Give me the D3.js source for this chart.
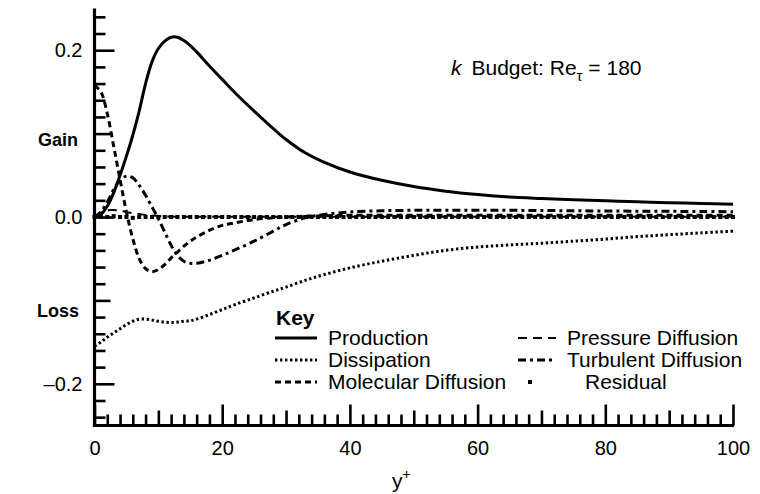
<!DOCTYPE html>
<html>
<head>
<meta charset="utf-8">
<script src="https://cdn.jsdelivr.net/npm/d3@7/dist/d3.min.js"></script>
<style>
  html, body { margin: 0; padding: 0; background: #fff; }
  svg { display: block; font-family: "Liberation Sans", Arial, Helvetica, sans-serif; }
</style>
</head>
<body>
<svg id="chart" width="760" height="494"></svg>
<script>
// Turbulent kinetic energy budget terms vs. wall distance y+
const yPlus = [0, 1, 2, 3, 4, 5, 6, 7, 8, 9, 10, 11, 12, 13, 14, 15, 16, 18, 20, 22, 25, 28, 30, 33, 36, 40, 45, 50, 55, 60, 65, 70, 75, 80, 85, 90, 95, 100];

const production = [0, 0.003, 0.013, 0.029, 0.050, 0.073, 0.098, 0.127, 0.160, 0.186, 0.202, 0.211, 0.2155, 0.2155, 0.2115, 0.2055, 0.198, 0.181, 0.165, 0.149, 0.127, 0.106, 0.093, 0.077, 0.0655, 0.054, 0.044, 0.0365, 0.031, 0.027, 0.024, 0.0222, 0.0207, 0.0194, 0.0182, 0.0172, 0.0162, 0.0152];

const dissipation = [-0.155, -0.150, -0.144, -0.139, -0.134, -0.129, -0.125, -0.1225, -0.1225, -0.1235, -0.125, -0.126, -0.1265, -0.126, -0.125, -0.1245, -0.1225, -0.117, -0.111, -0.105, -0.097, -0.089, -0.084, -0.076, -0.069, -0.061, -0.053, -0.046, -0.040, -0.036, -0.0335, -0.0315, -0.029, -0.0265, -0.0235, -0.0212, -0.019, -0.017];

const molecularDiffusion = [0.158, 0.150, 0.124, 0.085, 0.045, 0.006, -0.026, -0.050, -0.062, -0.0655, -0.063, -0.057, -0.049, -0.042, -0.035, -0.029, -0.024, -0.016, -0.010, -0.007, -0.003, -0.001, 0.000, 0.001, 0.0015, 0.002, 0.002, 0.002, 0.002, 0.002, 0.002, 0.002, 0.002, 0.002, 0.002, 0.002, 0.002, 0.002];

const turbulentDiffusion = [0.000, 0.006, 0.018, 0.033, 0.044, 0.049, 0.047, 0.038, 0.026, 0.012, -0.002, -0.018, -0.034, -0.046, -0.053, -0.0555, -0.0555, -0.052, -0.046, -0.0395, -0.029, -0.017, -0.009, -0.001, 0.003, 0.006, 0.0075, 0.008, 0.008, 0.008, 0.008, 0.0078, 0.0075, 0.0072, 0.007, 0.0068, 0.0066, 0.0064];

const pressureDiffusion = [0.000, 0.005, 0.008, 0.0085, 0.0075, 0.006, 0.0045, 0.0035, 0.0025, 0.0018, 0.0012, 0.0008, 0.0005, 0.0004, 0.0003, 0.0003, 0.0003, 0.0003, 0.0003, 0.0003, 0.0003, 0.0003, 0.0003, 0.0003, 0.0003, 0.0003, 0.0003, 0.0003, 0.0003, 0.0003, 0.0003, 0.0003, 0.0003, 0.0003, 0.0003, 0.0003, 0.0003, 0.0003];

// Residual, one sample per wall unit
const residualYPlus = d3.range(0, 101, 1);
const residual = [
  0.000, 0.000, 0.000, 0.001, 0.000, 0.000, -0.001, 0.000, 0.000, 0.000,
  0.000, 0.000, 0.000, 0.000, 0.000, 0.000, 0.000, 0.000, 0.000, 0.000,
  0.000, 0.000, 0.000, 0.000, 0.000, 0.000, 0.000, 0.000, 0.000, 0.000,
  0.000, 0.000, 0.000, 0.000, 0.000, 0.000, 0.000, 0.000, 0.000, 0.000,
  0.000, 0.000, 0.000, 0.000, 0.000, 0.000, 0.000, 0.000, 0.000, 0.000,
  0.000, 0.000, 0.000, 0.000, 0.000, 0.000, 0.000, 0.000, 0.000, 0.000,
  0.000, 0.000, 0.000, 0.000, 0.000, 0.000, 0.000, 0.000, 0.000, 0.000,
  0.000, 0.000, 0.000, 0.000, 0.000, 0.000, 0.000, 0.000, 0.000, 0.000,
  0.000, 0.000, 0.000, 0.000, 0.000, 0.000, 0.000, 0.000, 0.000, 0.000,
  0.000, 0.000, 0.000, 0.000, 0.000, 0.000, 0.000, 0.000, 0.000, 0.000,
  0.000
];

// Axis tick values and labels
const xMajorTicks = [0, 20, 40, 60, 80, 100];
const xMidTicks = [10, 30, 50, 70, 90];
const xMinorTicks = [2, 4, 6, 8, 12, 14, 16, 18, 22, 24, 26, 28, 32, 34, 36, 38, 42, 44, 46, 48, 52, 54, 56, 58, 62, 64, 66, 68, 72, 74, 76, 78, 82, 84, 86, 88, 92, 94, 96, 98];
const yMajorTicks = [-0.2, 0.0, 0.2];
const yMidTicks = [-0.1, 0.1];
const yMinorTicks = [-0.24, -0.22, -0.18, -0.16, -0.14, -0.12, -0.08, -0.06, -0.04, -0.02, 0.02, 0.04, 0.06, 0.08, 0.12, 0.14, 0.16, 0.18, 0.22, 0.24];
const yTickLabels = new Map([[-0.2, "\u20130.2"], [0.0, "0.0"], [0.2, "0.2"]]);

const svg = d3.select("#chart");
svg.append("rect").attr("width", 760).attr("height", 494).attr("fill", "#fff");

const x = d3.scaleLinear().domain([0, 100]).range([94.5, 733]);
const y = d3.scaleLinear().domain([-0.25, 0.25]).range([425.5, 8.5]);

const TICK_FONT = 20;
const TEXT_FONT = 21;

// --- curves ---
const series = [
  { name: "Production", values: production, dash: null, width: 3 },
  { name: "Dissipation", values: dissipation, dash: "2.4,2.6", width: 3 },
  { name: "Molecular Diffusion", values: molecularDiffusion, dash: "6,4", width: 3 },
  { name: "Pressure Diffusion", values: pressureDiffusion, dash: "9,6", width: 2 },
  { name: "Turbulent Diffusion", values: turbulentDiffusion, dash: "8,4,3,4", width: 3 }
];

const line = d3.line()
  .x(d => x(d[0]))
  .y(d => y(d[1]))
  .curve(d3.curveCatmullRom.alpha(0.5));

const plot = svg.append("g");

plot.selectAll("rect.residual")
  .data(residualYPlus.map((v, i) => [v, residual[i]]))
  .join("rect")
  .attr("class", "residual")
  .attr("x", d => x(d[0]) - 2)
  .attr("y", d => y(d[1]) - 2)
  .attr("width", 4)
  .attr("height", 4)
  .attr("fill", "#000");

series.forEach(s => {
  plot.append("path")
    .datum(yPlus.map((v, i) => [v, s.values[i]]))
    .attr("fill", "none")
    .attr("stroke", "#000")
    .attr("stroke-width", s.width)
    .attr("stroke-dasharray", s.dash)
    .attr("d", line);
});

// --- axes (ticks point inward) ---
function styleAxis(g) {
  g.select(".domain").remove();
  g.selectAll(".tick line").attr("stroke", "#000").attr("stroke-width", 2.6);
  g.selectAll(".tick text").attr("font-size", TICK_FONT).attr("fill", "#000")
    .attr("font-family", "Liberation Sans, Arial, sans-serif");
}
function yAxis(values, len, labels) {
  const ax = d3.axisLeft(y).tickValues(values).tickSizeInner(-len).tickSizeOuter(0)
    .tickPadding(12)
    .tickFormat(d => labels ? (labels.get(+d.toFixed(2)) || "") : "");
  svg.append("g").attr("transform", `translate(${x(0)},0)`).call(ax).call(styleAxis);
}
yAxis(yMinorTicks, 11);
yAxis(yMidTicks, 16);
yAxis(yMajorTicks, 20, yTickLabels);

function xAxis(values, len, labelled) {
  const ax = d3.axisBottom(x).tickValues(values).tickSizeInner(-len).tickSizeOuter(0)
    .tickPadding(15)
    .tickFormat(d => labelled ? d3.format("d")(d) : "");
  svg.append("g").attr("transform", `translate(0,${y(-0.25)})`).call(ax).call(styleAxis);
}
xAxis(xMinorTicks, 11);
xAxis(xMidTicks, 15);
xAxis(xMajorTicks, 21, true);

// axis spines
svg.append("line")
  .attr("x1", x(0)).attr("x2", x(0)).attr("y1", y(0.25)).attr("y2", y(-0.25) + 1.5)
  .attr("stroke", "#000").attr("stroke-width", 3.2);
svg.append("line")
  .attr("x1", x(0) - 1.5).attr("x2", x(100) + 1).attr("y1", y(-0.25)).attr("y2", y(-0.25))
  .attr("stroke", "#000").attr("stroke-width", 3.2);

// --- axis titles ---
const xt = svg.append("text").attr("x", 392).attr("y", 488).attr("font-size", TEXT_FONT).attr("fill", "#000");
xt.append("tspan").text("y");
xt.append("tspan").attr("font-size", 14).attr("dy", -9).text("+");

svg.append("text").attr("x", 38).attr("y", 146).attr("font-size", 18).attr("font-weight", "bold").text("Gain");
svg.append("text").attr("x", 37).attr("y", 317).attr("font-size", 18).attr("font-weight", "bold").text("Loss");

// --- title ---
const title = svg.append("text").attr("x", 451).attr("y", 75).attr("font-size", TEXT_FONT).attr("fill", "#000");
title.append("tspan").attr("font-style", "italic").text("k");
title.append("tspan").attr("dx", 10).text("Budget: Re");
title.append("tspan").attr("font-size", 15).attr("dy", 6).text("\u03c4");
title.append("tspan").attr("dy", -6).text(" = 180");

// --- legend ---
const legend = svg.append("g");
legend.append("text").attr("x", 276).attr("y", 325).attr("font-size", TEXT_FONT).attr("font-weight", "bold").text("Key");

const legendRows = [
  { s: series[0], col: 0, row: 0 },
  { s: series[1], col: 0, row: 1 },
  { s: series[2], col: 0, row: 2 },
  { s: series[3], col: 1, row: 0 },
  { s: series[4], col: 1, row: 1 }
];
// [line start, line end, text start] per column
const colX = [[275, 317, 328], [518, 556, 567]];
const rowY = [338, 360, 382];

legendRows.forEach(r => {
  const [x1, x2, tx] = colX[r.col];
  const yy = rowY[r.row];
  legend.append("line")
    .attr("x1", x1).attr("x2", x2).attr("y1", yy).attr("y2", yy)
    .attr("stroke", "#000").attr("stroke-width", r.s.width)
    .attr("stroke-dasharray", r.s.dash);
  legend.append("text").attr("x", tx).attr("y", yy + 7).attr("font-size", TEXT_FONT).text(r.s.name);
});
legend.append("rect").attr("x", 528).attr("y", rowY[2] - 2).attr("width", 4).attr("height", 4).attr("fill", "#000");
legend.append("text").attr("x", 585).attr("y", rowY[2] + 7).attr("font-size", TEXT_FONT).text("Residual");
</script>
</body>
</html>
